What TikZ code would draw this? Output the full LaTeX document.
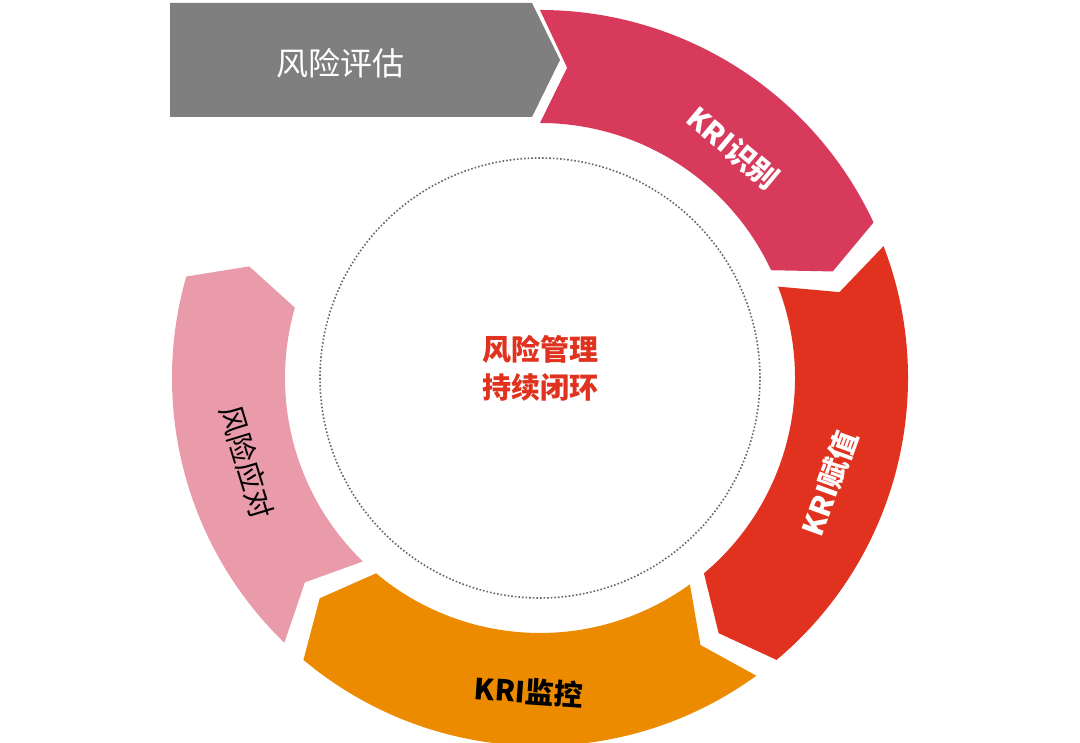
\documentclass[tikz,border=0pt]{standalone}
\usepackage{fontspec}
\setmainfont{Noto Sans CJK SC}
\usetikzlibrary{positioning}
\definecolor{segrose}{HTML}{D83A5C}
\definecolor{segred}{HTML}{E0321F}
\definecolor{segorange}{HTML}{ED8B00}
\definecolor{segpink}{HTML}{EA9BA9}
\definecolor{seggray}{HTML}{7F7F7F}
\def\ro{368}
\def\ri{255}
\def\rm{311.5}
\def\tipd{5}
% one chevron piece of the ring, clockwise from #1 to #2
\newcommand\ringpiece[3]{%
  \fill[#3] (#1:\ro) arc[start angle=#1, end angle=#2, radius=\ro]
    -- ({#2-\tipd}:\rm) -- (#2:\ri)
    arc[start angle=#2, end angle=#1, radius=\ri]
    -- ({#1-\tipd}:\rm) -- cycle;}
\begin{document}
\begin{tikzpicture}[
  x=1pt, y=1pt,
  seglabel/.style={font=\fontsize{29}{32}\selectfont\bfseries},
  titlelabel/.style={font=\fontsize{32}{36}\selectfont, text=white}
]
\useasboundingbox (0,0) rectangle (1080,743);
\fill[white] (0,0) rectangle (1080,743);

% gray arrow
\fill[seggray] (170,740) -- (532,740) -- (560,683) -- (532,626) -- (170,626) -- cycle;
\node[titlelabel] (assess) at (340,680) {风险评估};

\begin{scope}[shift={(540,365)}]
  \ringpiece{90}{25}{segrose}
  \ringpiece{21}{-50}{segred}
  \ringpiece{-54}{-130}{segorange}
  \ringpiece{-134}{-196}{segpink}

  \draw[gray!80!black, dotted, line width=1.6pt] (0,0) circle[radius=220];

  \node[seglabel, text=white, rotate=-40] (ident) at (50:300) {KRI识别};
  \node[seglabel, text=white, rotate=70] (assign) at (-20:308) {KRI赋值};
  \node[seglabel, text=black, rotate=-4] (monitor) at (-92:314) {KRI监控};
  \node[font=\fontsize{29}{32}\selectfont, text=black, rotate=-73] (respond) at (-164:305) {风险应对};

  \node[align=center, text=segred, font=\fontsize{29}{38}\selectfont\bfseries] (core) at (0,10) {风险管理\\持续闭环};
\end{scope}
\end{tikzpicture}
\end{document}
